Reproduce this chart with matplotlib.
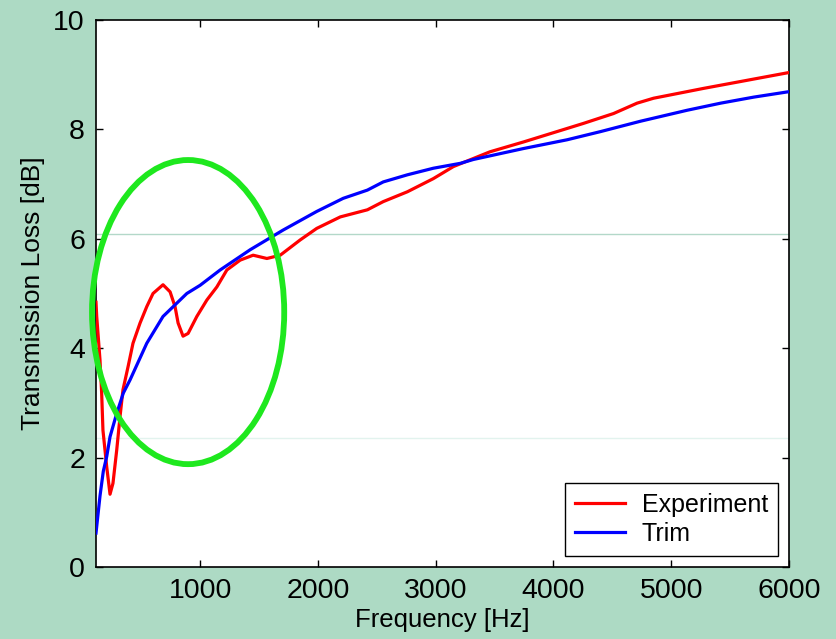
import numpy as np
import matplotlib.pyplot as plt
from matplotlib.patches import Ellipse

exp_freq = [116, 122, 150, 164, 175, 207, 235, 260, 292, 320, 345, 388, 430, 490,
            547, 600, 685, 745, 787, 813, 855, 898, 972, 1057, 1142, 1227, 1340,
            1450, 1567, 1680, 1850, 1990, 2190, 2420, 2555, 2760, 2980, 3150,
            3460, 3745, 4030, 4255, 4510, 4710, 4850, 5275, 5650, 6000]
exp_tl = [4.84, 4.58, 3.78, 3.18, 2.50, 1.83, 1.33, 1.53, 2.14, 2.75, 3.24, 3.66,
          4.09, 4.46, 4.76, 5.00, 5.16, 5.03, 4.76, 4.46, 4.22, 4.27, 4.58, 4.88,
          5.12, 5.43, 5.61, 5.70, 5.64, 5.70, 5.98, 6.19, 6.40, 6.53, 6.68, 6.86,
          7.10, 7.32, 7.59, 7.77, 7.96, 8.11, 8.29, 8.48, 8.57, 8.75, 8.90, 9.04]

# Trim model prediction
trim_freq = [116, 150, 178, 207, 235, 292, 348, 405, 547, 685, 887, 1000, 1170,
             1425, 1705, 1990, 2215, 2420, 2555, 2760, 2980, 3210, 3320, 3745,
             4115, 4400, 4740, 5135, 5420, 5700, 6000]
trim_tl = [0.62, 1.30, 1.75, 2.02, 2.38, 2.81, 3.18, 3.42, 4.09, 4.58, 5.00, 5.15,
           5.43, 5.80, 6.16, 6.50, 6.74, 6.89, 7.04, 7.17, 7.29, 7.38, 7.45, 7.65,
           7.81, 7.96, 8.15, 8.35, 8.48, 8.59, 8.69]

xticks = [1000, 2000, 3000, 4000, 5000, 6000]
yticks = [0, 2, 4, 6, 8, 10]

plt.rcParams['font.family'] = ['Liberation Sans', 'DejaVu Sans']

fig = plt.figure(figsize=(8.37, 6.39), dpi=100, facecolor='#addac4')
ax = fig.add_axes([0.1147, 0.1127, 0.828, 0.856])
ax.set_facecolor('white')

# faint lines from the slide background
ax.axhline(6.08, color='#b3d8c9', lw=1.0, zorder=1)
ax.axhline(2.36, color='#e2f3ee', lw=1.0, zorder=1)

ax.plot(exp_freq, exp_tl, color='#ff0000', lw=2.3, label='Experiment', zorder=3)
ax.plot(trim_freq, trim_tl, color='#0000ff', lw=2.3, label='Trim', zorder=3)

# highlight of the low-frequency region
ax.add_patch(Ellipse((898, 4.66), 1632, 5.56, fill=False, edgecolor='#1ee81e',
                     lw=4.2, clip_on=False, zorder=4))

ax.set_xlim(116, 6000)
ax.set_ylim(0, 10)
ax.set_xticks(xticks)
ax.set_yticks(yticks)
ax.tick_params(direction='in', length=5, width=1, labelsize=20.5, top=True, right=True, pad=8)
for s in ax.spines.values():
    s.set_linewidth(1.2)

ax.set_xlabel('Frequency [Hz]', fontsize=18.5, labelpad=3)
ax.set_ylabel('Transmission Loss [dB]', fontsize=19, labelpad=6)

leg = ax.legend(loc='lower right', fontsize=18, fancybox=False, framealpha=1,
                edgecolor='black', handlelength=2.0, handletextpad=0.65,
                borderpad=0.4, labelspacing=0.2, borderaxespad=0.45)
leg.get_frame().set_linewidth(1.0)

fig.savefig('out.png', dpi=100, facecolor=fig.get_facecolor())
